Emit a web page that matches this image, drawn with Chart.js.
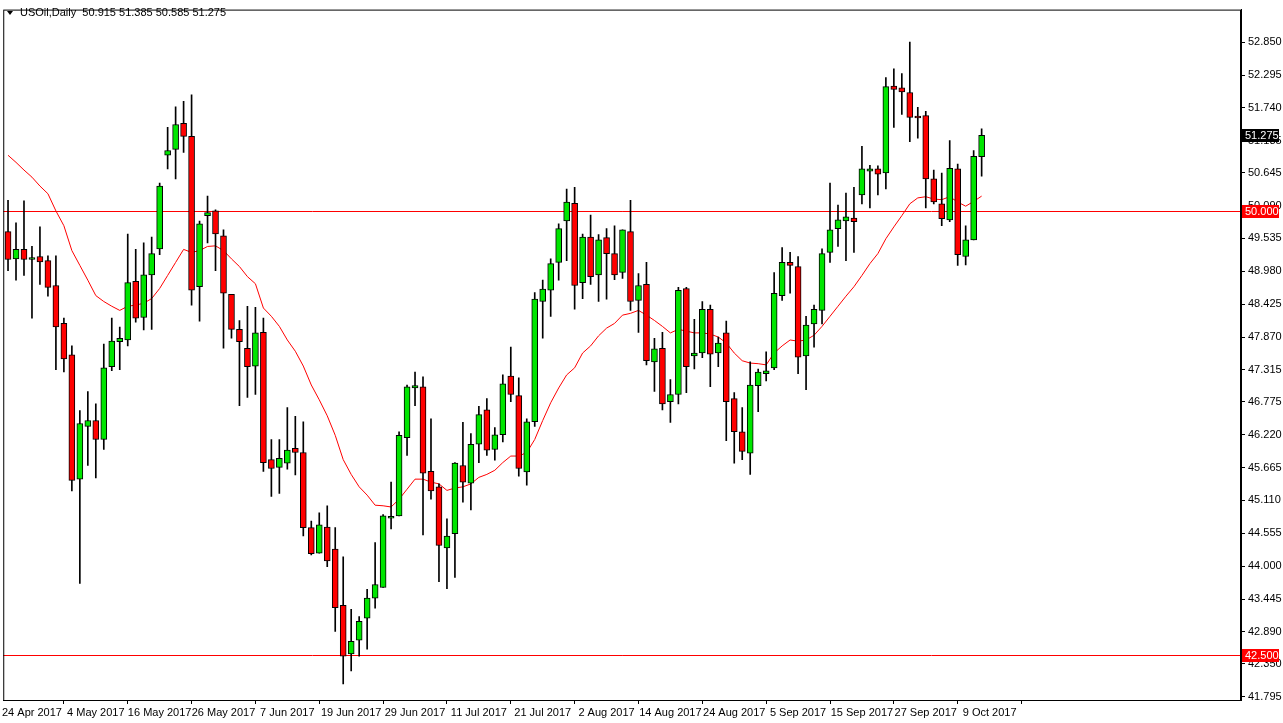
<!DOCTYPE html>
<html>
<head>
<meta charset="utf-8">
<script src="https://cdn.jsdelivr.net/npm/chart.js@4.4.1/dist/chart.umd.min.js"></script>
<style>
  html, body { margin: 0; padding: 0; background: #fff; }
  canvas { display: block; }
</style>
</head>
<body>
<canvas id="oilChart" width="1283" height="723"></canvas>
<script>
// USOil daily candles, 19 Apr 2017 .. 9 Oct 2017
const opens = [
  49.65,49.19,49.35,49.18,49.23,49.16,48.74,48.10,47.57,45.47,
  46.36,46.46,46.14,47.37,47.79,47.82,48.81,48.20,48.92,49.36,
  50.94,51.04,51.48,51.26,48.72,49.92,50.00,49.58,48.59,48.00,
  47.68,47.38,47.95,45.80,45.67,45.74,45.99,45.92,44.65,44.22,
  44.66,44.29,43.34,42.52,42.75,43.12,43.46,43.64,44.81,44.85,
  46.17,47.01,47.03,45.60,45.34,44.31,44.55,45.70,45.40,46.06,
  46.64,45.97,46.22,47.21,46.88,45.59,46.44,48.47,48.66,49.13,
  49.83,50.13,48.79,49.56,48.92,49.55,49.28,48.96,49.65,48.49,
  48.76,47.45,47.68,46.78,46.90,48.69,47.55,47.60,48.34,47.60,
  47.94,46.83,46.27,45.91,47.05,47.25,47.35,48.57,49.13,49.06,
  47.55,48.09,48.32,49.30,49.70,49.83,49.88,50.27,50.67,50.71,
  50.64,52.11,52.08,52.00,51.58,51.61,50.54,50.12,49.85,50.71,
  49.23,49.51,50.915
];
const highs = [
  50.18,49.80,50.17,49.40,49.73,49.24,49.24,48.19,47.72,46.63,
  46.95,46.74,47.75,48.19,48.04,49.61,49.35,49.46,49.56,50.47,
  51.41,51.76,51.85,51.96,49.83,50.25,50.02,49.68,48.59,48.15,
  48.39,48.37,48.19,46.14,46.14,46.68,46.53,46.44,44.76,44.90,
  45.02,44.65,44.16,43.27,43.15,43.61,44.40,44.87,45.42,46.27,
  47.06,47.28,47.20,46.49,45.39,44.80,45.75,46.43,46.24,46.70,
  46.83,46.34,47.23,47.70,47.18,46.49,48.62,48.83,49.19,49.78,
  50.37,50.40,49.61,49.93,49.60,49.70,49.75,49.68,50.18,48.94,
  49.13,47.85,47.95,47.15,48.71,48.71,48.17,48.47,48.41,47.87,
  48.14,46.93,46.68,47.45,47.33,47.62,48.96,49.38,49.30,49.23,
  48.22,48.41,49.36,50.47,50.10,50.30,50.40,51.09,50.77,50.76,
  52.25,52.40,52.32,52.85,51.75,51.68,50.69,50.64,51.19,50.79,
  49.75,51.02,51.385
];
const lows = [
  48.99,48.83,48.91,48.19,48.76,48.56,47.32,47.28,45.27,43.71,
  45.70,45.49,45.97,47.30,47.32,47.72,48.12,47.99,48.00,49.26,
  50.71,50.54,50.99,48.41,48.14,49.46,48.99,47.68,47.85,46.71,
  46.85,46.90,45.60,45.18,45.23,45.64,45.54,44.51,44.19,44.22,
  43.99,42.90,42.01,42.23,42.48,42.60,43.29,43.64,44.63,44.85,
  45.87,46.71,44.53,45.13,43.74,43.62,43.81,45.08,44.95,45.75,
  45.87,45.79,46.10,46.78,45.52,45.37,46.36,47.85,48.22,48.83,
  49.16,48.34,48.52,48.76,48.47,48.51,48.84,48.86,48.32,47.95,
  47.40,46.95,46.64,46.43,46.74,46.93,47.33,47.52,47.03,47.37,
  46.12,45.74,45.80,45.55,46.61,47.13,47.32,48.49,48.61,47.25,
  46.98,47.70,48.09,49.13,49.40,49.16,49.30,50.12,50.05,50.27,
  50.37,51.41,51.63,51.17,51.23,50.05,50.12,49.75,49.82,49.08,
  49.09,49.51,50.585
];
const closes = [
  49.18,49.35,49.18,49.21,49.14,48.71,48.04,47.50,45.45,46.41,
  46.46,46.14,47.35,47.80,47.85,48.79,48.19,48.92,49.28,50.42,
  51.02,51.46,51.26,48.66,49.78,49.97,49.61,48.61,48.00,47.79,
  47.37,47.94,45.75,45.65,45.82,45.96,45.92,44.65,44.21,44.70,
  44.09,43.30,42.48,42.73,43.07,43.46,43.69,44.85,44.83,46.21,
  47.03,47.05,45.57,45.27,44.35,44.51,45.74,45.42,46.06,46.56,
  45.96,46.22,47.08,46.90,45.65,46.44,48.51,48.68,49.11,49.70,
  50.15,48.74,49.56,48.89,49.51,49.28,48.92,49.68,48.47,48.74,
  47.47,47.67,46.74,46.90,48.66,47.37,47.60,48.34,47.58,47.77,
  46.78,46.27,45.94,47.06,47.28,47.30,48.61,49.13,49.08,47.53,
  48.07,48.34,49.28,49.68,49.85,49.90,49.82,50.71,50.71,50.62,
  52.10,52.05,52.01,51.58,51.57,50.54,50.15,49.87,50.72,49.26,
  49.51,50.92,51.275
];
// moving average line
const maValues = [
  50.94,50.82,50.69,50.57,50.42,50.29,50.00,49.75,49.33,49.08,
  48.83,48.57,48.47,48.39,48.32,48.39,48.41,48.44,48.52,48.69,
  48.91,49.13,49.35,49.30,49.33,49.40,49.41,49.33,49.19,49.06,
  48.89,48.77,48.36,48.22,48.05,47.82,47.63,47.38,47.06,46.81,
  46.54,46.21,45.80,45.55,45.34,45.20,45.03,45.02,45.00,45.13,
  45.30,45.47,45.47,45.42,45.39,45.28,45.32,45.34,45.39,45.50,
  45.55,45.62,45.75,45.86,45.86,45.92,46.14,46.46,46.76,47.01,
  47.23,47.35,47.60,47.72,47.89,48.02,48.10,48.24,48.27,48.32,
  48.24,48.15,48.05,47.94,48.00,47.97,47.94,47.94,47.92,47.87,
  47.77,47.60,47.47,47.43,47.42,47.40,47.60,47.72,47.82,47.80,
  47.82,47.90,48.05,48.22,48.39,48.56,48.72,48.91,49.11,49.28,
  49.53,49.73,49.92,50.12,50.22,50.24,50.20,50.19,50.24,50.15,
  50.08,50.16,50.25
];
const dateLabels = ['24 Apr 2017','4 May 2017','16 May 2017','26 May 2017','7 Jun 2017','19 Jun 2017',
  '29 Jun 2017','11 Jul 2017','21 Jul 2017','2 Aug 2017','14 Aug 2017','24 Aug 2017',
  '5 Sep 2017','15 Sep 2017','27 Sep 2017','9 Oct 2017'];
const dateBars = [3,11,19,27,35,43,51,59,67,75,83,91,99,107,115,123];
const priceTicks = [52.850,52.295,51.740,51.185,50.645,50.090,49.535,48.980,48.425,47.870,47.315,
  46.775,46.220,45.665,45.110,44.555,44.000,43.445,42.890,42.350,41.795];
const levelLines = [50.000, 42.500];
const lastPrice = 51.275;

const UP = '#00e600', DOWN = '#ff0000';
const FONT = 'Liberation Sans';
const candleColors = opens.map((o, i) => closes[i] >= o ? UP : DOWN);

const wickData = opens.map((o, i) => ({ x: i, y: [lows[i], highs[i]] }));
const bodyData = opens.map((o, i) => ({ x: i, y: [o, closes[i]] }));
const maData = maValues.map((v, i) => ({ x: i, y: v }));

const overlay = {
  id: 'overlay',
  beforeDatasetsDraw(chart) {
    const { ctx, chartArea, scales } = chart;
    ctx.save();
    ctx.strokeStyle = '#ff0000';
    ctx.lineWidth = 1;
    levelLines.forEach(v => {
      const y = Math.round(scales.y.getPixelForValue(v)) + 0.5;
      ctx.beginPath();
      ctx.moveTo(chartArea.left, y);
      ctx.lineTo(chartArea.right, y);
      ctx.stroke();
    });
    ctx.restore();
  },
  afterDraw(chart) {
    const { ctx, chartArea, scales } = chart;
    ctx.save();
    ctx.font = '11px "' + FONT + '"';
    ctx.textBaseline = 'middle';
    const tag = (v, bg) => {
      const y = Math.round(scales.y.getPixelForValue(v));
      ctx.fillStyle = bg;
      ctx.fillRect(chartArea.right + 1, y - 6, 37, 13);
      ctx.fillStyle = '#fff';
      ctx.textAlign = 'left';
      ctx.fillText(v.toFixed(3), chartArea.right + 4, y + 1);
    };
    levelLines.forEach(v => tag(v, '#ff0000'));
    tag(lastPrice, '#000');
    // header
    ctx.fillStyle = '#000';
    ctx.beginPath();
    ctx.moveTo(7, 11); ctx.lineTo(13, 11); ctx.lineTo(10, 15); ctx.closePath();
    ctx.fill();
    ctx.textAlign = 'left';
    ctx.fillText('USOil,Daily  ' + opens[opens.length - 1].toFixed(3) + ' ' + highs[highs.length - 1].toFixed(3) + ' ' +
      lows[lows.length - 1].toFixed(3) + ' ' + closes[closes.length - 1].toFixed(3), 20, 13);
    // frame
    ctx.strokeStyle = '#000';
    ctx.strokeRect(chartArea.left + 0.5, chartArea.top + 0.5, chartArea.right - chartArea.left - 1, chartArea.bottom - chartArea.top);
    ctx.restore();
  }
};

new Chart(document.getElementById('oilChart').getContext('2d'), {
  type: 'bar',
  data: {
    datasets: [
      {
        type: 'line',
        data: maData,
        borderColor: '#ff0000',
        borderWidth: 1,
        pointRadius: 0,
        tension: 0,
        order: 3
      },
      {
        data: wickData,
        backgroundColor: '#000',
        barThickness: 1,
        grouped: false,
        order: 2
      },
      {
        data: bodyData,
        backgroundColor: candleColors,
        borderColor: '#000',
        borderWidth: 1,
        borderSkipped: false,
        barThickness: 6,
        minBarLength: 2,
        grouped: false,
        order: 1
      }
    ]
  },
  options: {
    responsive: false,
    animation: false,
    devicePixelRatio: 1,
    layout: { padding: { top: 0, left: 0, right: 0, bottom: 0 } },
    plugins: { legend: { display: false }, tooltip: { enabled: false } },
    scales: {
      x: {
        type: 'linear',
        min: -0.6,
        max: 154.5,
        offset: false,
        grid: { drawOnChartArea: false, tickLength: 4, color: '#000' },
        border: { color: '#000' },
        afterBuildTicks: s => { s.ticks = dateBars.map(v => ({ value: v })); },
        afterFit: s => { s.height = 23; },
        ticks: {
          autoSkip: false,
          maxRotation: 0,
          color: '#000',
          padding: 2,
          font: { family: FONT, size: 11 },
          callback: (v) => dateLabels[dateBars.indexOf(v)]
        }
      },
      y: {
        position: 'right',
        min: 41.74,
        max: 53.40,
        grid: { drawOnChartArea: false, tickLength: 4, color: '#000' },
        border: { color: '#000' },
        afterBuildTicks: s => { s.ticks = priceTicks.map(v => ({ value: v })); },
        afterFit: s => { s.width = 42; },
        ticks: {
          color: '#000',
          padding: 3,
          font: { family: FONT, size: 11 },
          callback: v => v.toFixed(3)
        }
      }
    }
  },
  plugins: [overlay]
});
</script>
</body>
</html>
